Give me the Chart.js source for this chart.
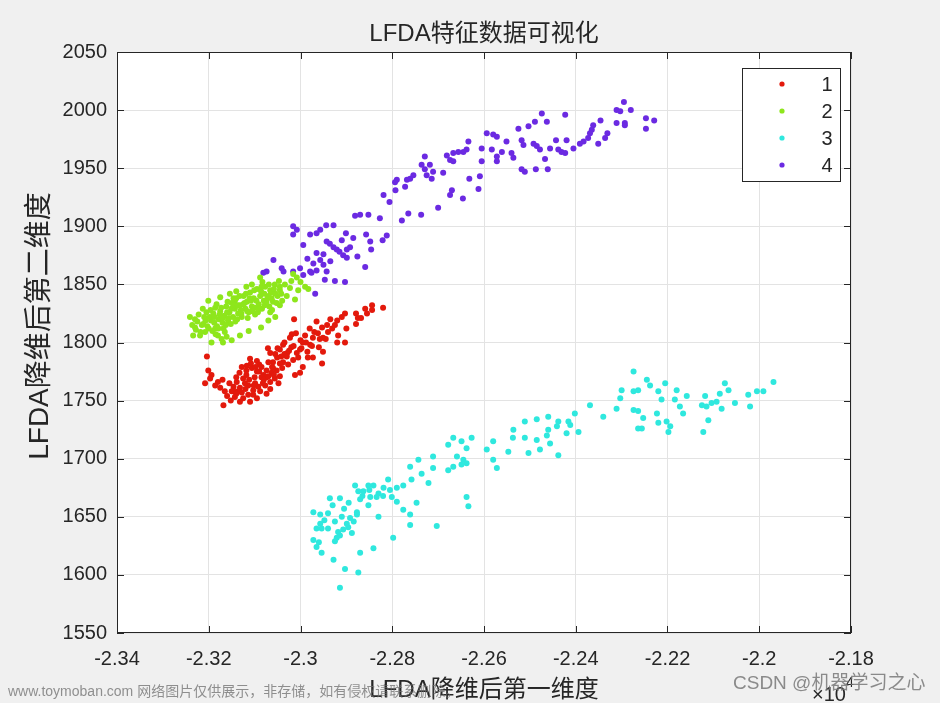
<!DOCTYPE html>
<html><head><meta charset="utf-8">
<script src="https://cdn.jsdelivr.net/npm/chart.js@4.4.1/dist/chart.umd.min.js"></script>
<style>html,body{margin:0;padding:0;background:#f0f0f0;}canvas{display:block;}</style>
</head><body>
<canvas id="c" width="940" height="703"></canvas>
<script>
// ---- data (x in units of 1e4) ----
const class1 = [[-2.2820,1830],[-2.2844,1832],[-2.2859,1829],[-2.2844,1828],[-2.2879,1825],[-2.2875,1821],[-2.2879,1816],[-2.2868,1821],[-2.2903,1825],[-2.2920,1819],[-2.2925,1815],[-2.2931,1812],[-2.3014,1820],[-2.3019,1807],[-2.2903,1800],[-2.2920,1800],[-2.2918,1806],[-2.2953,1813],[-2.2962,1808],[-2.2951,1804],[-2.2973,1804],[-2.2979,1798],[-2.2995,1800],[-2.2951,1792],[-2.2953,1782],[-2.2973,1787],[-2.2984,1787],[-2.2995,1779],[-2.3012,1772],[-2.3023,1804],[-2.3038,1798],[-2.3029,1791],[-2.3045,1794],[-2.3051,1787],[-2.3060,1783],[-2.3066,1791],[-2.3071,1795],[-2.3038,1783],[-2.3027,1781],[-2.3016,1785],[-2.3008,1791],[-2.3001,1794],[-2.3110,1786],[-2.3095,1784],[-2.3085,1779],[-2.3074,1776],[-2.3063,1774],[-2.3056,1769],[-2.3066,1766],[-2.3081,1772],[-2.3095,1775],[-2.3106,1778],[-2.3117,1780],[-2.3128,1779],[-2.3125,1769],[-2.3114,1763],[-2.3103,1759],[-2.3092,1762],[-2.3077,1763],[-2.3132,1761],[-2.3139,1766],[-2.3146,1762],[-2.3150,1758],[-2.3143,1753],[-2.3125,1752],[-2.3114,1755],[-2.3103,1755],[-2.3088,1758],[-2.3052,1776],[-2.3048,1765],[-2.3066,1760],[-2.3074,1770],[-2.3099,1765],[-2.3121,1765],[-2.3133,1774],[-2.3204,1788],[-2.3201,1776],[-2.3194,1772],[-2.3208,1765],[-2.3197,1769],[-2.3186,1763],[-2.3175,1761],[-2.3168,1746],[-2.3165,1758],[-2.3146,1758],[-2.3132,1749],[-2.3110,1749],[-2.3095,1752],[-2.3074,1756],[-2.3001,1774],[-2.3040,1778],[-2.3030,1788],[-2.3020,1796],[-2.3000,1802],[-2.2990,1806],[-2.2980,1812],[-2.2965,1818],[-2.2940,1809],[-2.2960,1796],[-2.2985,1792],[-2.3050,1795],[-2.3060,1778],[-2.3085,1770],[-2.3100,1770],[-2.3118,1772],[-2.3140,1770],[-2.3155,1765],[-2.3160,1754],[-2.3090,1781],[-2.3070,1783],[-2.3045,1771],[-2.3035,1800],[-2.3010,1808],[-2.2935,1820],[-2.2945,1803],[-2.2970,1809],[-2.2900,1812],[-2.2910,1822],[-2.2855,1825],[-2.3108,1782],[-2.3098,1779],[-2.3090,1775],[-2.3080,1768],[-2.3070,1771],[-2.3058,1772],[-2.3045,1782],[-2.3035,1790],[-2.3025,1793],[-2.3015,1797],[-2.3005,1787],[-2.2998,1795],[-2.3120,1760],[-2.3128,1757],[-2.3136,1758],[-2.3112,1768],[-2.3102,1763],[-2.3082,1765],[-2.3062,1779],[-2.3055,1790],[-2.3042,1788],[-2.3118,1776],[-2.3140,1756],[-2.3152,1750],[-2.3180,1766],[-2.3170,1768],[-2.2988,1800],[-2.2975,1797],[-2.2958,1803],[-2.2942,1815]];

const class2 = [[-2.3241,1822],[-2.3230,1813],[-2.3234,1806],[-2.3219,1806],[-2.3208,1809],[-2.3201,1836],[-2.3194,1800],[-2.3180,1806],[-2.3172,1803],[-2.3165,1809],[-2.3175,1839],[-2.3154,1842],[-2.3143,1836],[-2.3225,1818],[-2.3215,1815],[-2.3210,1822],[-2.3205,1826],[-2.3200,1812],[-2.3195,1819],[-2.3190,1825],[-2.3186,1830],[-2.3182,1814],[-2.3178,1820],[-2.3175,1827],[-2.3170,1817],[-2.3166,1823],[-2.3162,1831],[-2.3158,1819],[-2.3155,1826],[-2.3150,1834],[-2.3147,1822],[-2.3143,1829],[-2.3140,1838],[-2.3136,1825],[-2.3132,1832],[-2.3128,1822],[-2.3124,1840],[-2.3120,1829],[-2.3117,1835],[-2.3113,1826],[-2.3110,1843],[-2.3106,1831],[-2.3102,1838],[-2.3099,1824],[-2.3095,1846],[-2.3091,1833],[-2.3088,1840],[-2.3084,1829],[-2.3080,1836],[-2.3077,1848],[-2.3072,1838],[-2.3068,1831],[-2.3064,1843],[-2.3060,1835],[-2.3056,1850],[-2.3050,1840],[-2.3045,1845],[-2.3040,1836],[-2.3212,1816],[-2.3198,1822],[-2.3188,1817],[-2.3176,1824],[-2.3168,1812],[-2.3160,1826],[-2.3152,1816],[-2.3145,1832],[-2.3138,1820],[-2.3130,1828],[-2.3122,1834],[-2.3115,1821],[-2.3108,1836],[-2.3100,1830],[-2.3093,1826],[-2.3086,1844],[-2.3078,1832],[-2.3070,1840],[-2.3062,1828],[-2.3055,1842],[-2.3088,1856],[-2.3106,1850],[-2.3083,1852],[-2.3066,1845],[-2.3045,1848],[-2.3034,1850],[-2.3023,1847],[-2.3016,1859],[-2.3008,1856],[-2.2990,1848],[-2.2983,1846],[-2.3012,1837],[-2.3045,1832],[-2.3066,1826],[-2.3086,1813],[-2.3113,1810],[-2.3132,1806],[-2.3150,1802],[-2.3169,1800],[-2.3186,1812],[-2.3140,1844],[-2.3118,1848],[-2.3055,1822],[-2.3030,1840],[-2.3000,1852],[-2.3070,1819],[-2.3228,1811],[-2.3222,1824],[-2.3218,1809],[-2.3213,1829],[-2.3207,1819],[-2.3203,1814],[-2.3196,1828],[-2.3192,1810],[-2.3187,1822],[-2.3183,1833],[-2.3179,1812],[-2.3173,1830],[-2.3169,1821],[-2.3163,1815],[-2.3159,1835],[-2.3156,1821],[-2.3151,1829],[-2.3146,1838],[-2.3142,1818],[-2.3137,1832],[-2.3133,1840],[-2.3129,1825],[-2.3125,1833],[-2.3119,1842],[-2.3116,1827],[-2.3111,1838],[-2.3105,1827],[-2.3101,1845],[-2.3096,1836],[-2.3090,1829],[-2.3085,1848],[-2.3079,1842],[-2.3074,1835],[-2.3069,1850],[-2.3063,1838],[-2.3058,1846],[-2.3052,1834],[-2.3047,1853],[-2.3042,1842],[-2.3020,1853],[-2.3005,1845],[-2.3230,1820],[-2.3236,1815],[-2.3185,1807],[-2.3161,1805]];

const class3 = [[-2.2274,1775],[-2.2245,1768],[-2.2238,1763],[-2.2205,1765],[-2.2300,1759],[-2.2303,1752],[-2.2274,1758],[-2.2264,1759],[-2.2220,1758],[-2.2213,1751],[-2.2180,1759],[-2.2184,1751],[-2.2158,1754],[-2.2173,1745],[-2.2166,1739],[-2.2118,1754],[-2.2125,1746],[-2.2115,1745],[-2.2104,1748],[-2.2093,1749],[-2.2086,1756],[-2.2075,1765],[-2.2067,1759],[-2.2082,1743],[-2.2053,1748],[-2.2020,1745],[-2.2024,1755],[-2.2005,1758],[-2.1991,1758],[-2.1969,1766],[-2.2111,1733],[-2.2122,1723],[-2.2311,1743],[-2.2340,1736],[-2.2369,1746],[-2.2402,1739],[-2.2274,1742],[-2.2264,1741],[-2.2253,1735],[-2.2264,1726],[-2.2256,1726],[-2.2223,1739],[-2.2220,1731],[-2.2202,1732],[-2.2194,1728],[-2.2198,1723],[-2.2416,1732],[-2.2412,1729],[-2.2420,1722],[-2.2394,1723],[-2.2438,1732],[-2.2441,1728],[-2.2460,1725],[-2.2463,1720],[-2.2456,1713],[-2.2438,1703],[-2.2460,1736],[-2.2485,1734],[-2.2511,1732],[-2.2536,1725],[-2.2537,1718],[-2.2511,1718],[-2.2485,1716],[-2.2478,1708],[-2.2503,1705],[-2.2547,1706],[-2.2580,1715],[-2.2594,1708],[-2.2580,1699],[-2.2572,1692],[-2.2627,1718],[-2.2638,1709],[-2.2649,1715],[-2.2667,1718],[-2.2678,1712],[-2.2659,1702],[-2.2645,1699],[-2.2638,1696],[-2.2649,1695],[-2.2667,1693],[-2.2678,1690],[-2.2638,1667],[-2.2634,1659],[-2.2711,1702],[-2.2711,1692],[-2.2743,1699],[-2.2761,1693],[-2.2736,1687],[-2.2721,1679],[-2.2747,1662],[-2.2703,1642],[-2.2758,1682],[-2.2776,1677],[-2.2790,1675],[-2.2805,1673],[-2.2809,1682],[-2.2801,1667],[-2.2790,1663],[-2.2776,1656],[-2.2761,1652],[-2.2761,1643],[-2.2798,1632],[-2.2819,1675],[-2.2830,1670],[-2.2841,1677],[-2.2852,1677],[-2.2863,1672],[-2.2874,1672],[-2.2881,1677],[-2.2834,1667],[-2.2848,1667],[-2.2870,1665],[-2.2830,1650],[-2.2914,1666],[-2.2936,1666],[-2.2877,1654],[-2.2892,1649],[-2.2899,1644],[-2.2907,1639],[-2.2914,1634],[-2.2921,1632],[-2.2925,1629],[-2.2888,1636],[-2.2877,1652],[-2.2910,1650],[-2.2972,1654],[-2.2957,1652],[-2.2957,1644],[-2.2954,1640],[-2.2972,1630],[-2.2965,1624],[-2.2954,1619],[-2.2928,1613],[-2.2903,1605],[-2.2874,1602],[-2.2870,1619],[-2.2841,1623],[-2.2914,1589],[-2.2896,1641],[-2.2884,1646],[-2.2918,1637],[-2.2852,1660],[-2.2820,1668],[-2.2965,1640],[-2.2948,1647],[-2.2940,1653],[-2.2930,1660],[-2.2925,1646],[-2.2905,1657],[-2.2895,1662],[-2.2865,1668],[-2.2850,1673],[-2.2960,1628],[-2.2940,1640]];

const class4 = [[-2.2295,2007],[-2.2280,2000],[-2.2311,2000],[-2.2303,1999],[-2.2311,1989],[-2.2293,1989],[-2.2293,1987],[-2.2247,1993],[-2.2229,1991],[-2.2247,1984],[-2.2346,1991],[-2.2362,1987],[-2.2365,1983],[-2.2369,1980],[-2.2373,1976],[-2.2383,1973],[-2.2391,1971],[-2.2351,1971],[-2.2331,1980],[-2.2336,1976],[-2.2405,1967],[-2.2420,1974],[-2.2443,1974],[-2.2423,1996],[-2.2431,1964],[-2.2423,1963],[-2.2438,1966],[-2.2456,1967],[-2.2467,1958],[-2.2461,1949],[-2.2487,1949],[-2.2511,1947],[-2.2518,1949],[-2.2474,1997],[-2.2489,1990],[-2.2463,1990],[-2.2503,1986],[-2.2525,1984],[-2.2518,1974],[-2.2514,1970],[-2.2492,1971],[-2.2485,1969],[-2.2478,1966],[-2.2536,1959],[-2.2551,1973],[-2.2561,1964],[-2.2540,1963],[-2.2572,1960],[-2.2572,1956],[-2.2583,1966],[-2.2572,1977],[-2.2580,1979],[-2.2594,1980],[-2.2605,1967],[-2.2605,1956],[-2.2609,1943],[-2.2612,1932],[-2.2634,1973],[-2.2638,1966],[-2.2645,1964],[-2.2656,1964],[-2.2667,1963],[-2.2681,1961],[-2.2674,1957],[-2.2667,1956],[-2.2632,1941],[-2.2646,1924],[-2.2670,1931],[-2.2674,1927],[-2.2689,1946],[-2.2711,1947],[-2.2714,1941],[-2.2725,1944],[-2.2729,1949],[-2.2736,1953],[-2.2729,1960],[-2.2718,1953],[-2.2754,1944],[-2.2761,1941],[-2.2768,1940],[-2.2790,1940],[-2.2794,1938],[-2.2700,1916],[-2.2737,1910],[-2.2765,1911],[-2.2779,1905],[-2.2772,1934],[-2.2793,1931],[-2.2819,1927],[-2.2806,1921],[-2.2827,1907],[-2.2852,1910],[-2.2870,1910],[-2.2881,1909],[-2.2812,1892],[-2.2821,1888],[-2.2846,1880],[-2.2848,1887],[-2.2857,1893],[-2.2876,1874],[-2.2859,1865],[-2.2885,1890],[-2.2901,1894],[-2.2892,1882],[-2.2899,1880],[-2.2907,1875],[-2.2899,1873],[-2.2921,1880],[-2.2928,1882],[-2.2936,1885],[-2.2943,1887],[-2.2928,1901],[-2.2944,1901],[-2.2957,1897],[-2.2965,1894],[-2.2979,1893],[-2.2994,1884],[-2.3008,1897],[-2.3016,1900],[-2.3016,1893],[-2.2965,1877],[-2.2957,1871],[-2.2950,1867],[-2.2943,1861],[-2.2972,1868],[-2.2965,1862],[-2.2979,1861],[-2.3001,1864],[-2.3016,1861],[-2.3037,1861],[-2.3041,1864],[-2.3059,1871],[-2.3074,1861],[-2.3081,1860],[-2.2925,1853],[-2.2903,1852],[-2.2947,1854],[-2.2976,1860],[-2.2994,1858],[-2.2968,1842],[-2.2935,1870],[-2.2915,1878],[-2.2950,1876],[-2.2985,1872],[-2.2910,1888]];

const seriesNames = ['1','2','3','4'];
const seriesColors = ['#e3190c','#8ee61c','#2fe8de','#6b2ae2'];
const xTicks = [-2.34,-2.32,-2.30,-2.28,-2.26,-2.24,-2.22,-2.20,-2.18];
const yTicks = [1550,1600,1650,1700,1750,1800,1850,1900,1950,2000,2050];
const titleText = 'LFDA特征数据可视化';
const xLabel = 'LFDA降维后第一维度';
const yLabel = 'LFDA降维后第二维度';

const FONT = '"Liberation Sans","Noto Sans CJK SC",Arial,sans-serif';
const fmt = v => String(parseFloat(Number(v).toFixed(2)));

const datasets = [class1, class2, class3, class4].map((arr, i) => ({
  label: seriesNames[i],
  data: arr.map(p => ({x: p[0], y: p[1]})),
  backgroundColor: seriesColors[i],
  borderColor: seriesColors[i],
  borderWidth: 0,
  pointRadius: 3,
  pointHoverRadius: 3
}));

const decor = {
  id: 'decor',
  beforeDraw(chart) {
    const {ctx, chartArea: a} = chart;
    ctx.save();
    ctx.fillStyle = '#f0f0f0';
    ctx.fillRect(0, 0, chart.width, chart.height);
    ctx.fillStyle = '#ffffff';
    ctx.fillRect(a.left, a.top, a.right - a.left, a.bottom - a.top);
    ctx.restore();
  },
  afterDraw(chart) {
    const {ctx, chartArea: a, scales} = chart;
    ctx.save();
    ctx.strokeStyle = '#262626';
    ctx.lineWidth = 1;
    ctx.strokeRect(a.left + 0.5, a.top + 0.5, a.right - a.left - 1, a.bottom - a.top - 1);
    ctx.beginPath();
    const tl = 7;
    xTicks.forEach(v => {
      const px = Math.round(scales.x.getPixelForValue(v)) + 0.5;
      ctx.moveTo(px, a.bottom); ctx.lineTo(px, a.bottom - tl);
      ctx.moveTo(px, a.top); ctx.lineTo(px, a.top + tl);
    });
    yTicks.forEach(v => {
      const py = Math.round(scales.y.getPixelForValue(v)) + 0.5;
      ctx.moveTo(a.left, py); ctx.lineTo(a.left + tl, py);
      ctx.moveTo(a.right, py); ctx.lineTo(a.right - tl, py);
    });
    ctx.stroke();

    // legend
    const lx = 742, ly = 68, lw = 98, lh = 113;
    ctx.fillStyle = '#ffffff';
    ctx.fillRect(lx, ly, lw, lh);
    ctx.strokeStyle = '#262626';
    ctx.strokeRect(lx + 0.5, ly + 0.5, lw, lh);
    const rows = [84, 111, 138, 165];
    seriesNames.forEach((n, i) => {
      ctx.fillStyle = seriesColors[i];
      ctx.beginPath();
      ctx.arc(782, rows[i], 2.6, 0, Math.PI * 2);
      ctx.fill();
      ctx.fillStyle = '#262626';
      ctx.font = '20px ' + FONT;
      ctx.textAlign = 'center';
      ctx.textBaseline = 'middle';
      ctx.fillText(n, 827, rows[i] + 1);
    });

    ctx.fillStyle = '#262626';
    ctx.font = '24px ' + FONT;
    ctx.textAlign = 'center';
    ctx.textBaseline = 'middle';
    ctx.fillText(titleText, (a.left + a.right) / 2, 34);

    ctx.font = '24px ' + FONT;
    ctx.fillText(xLabel, (a.left + a.right) / 2, 690);

    ctx.save();
    ctx.translate(40, 326);
    ctx.rotate(-Math.PI / 2);
    ctx.font = '28px ' + FONT;
    ctx.fillText(yLabel, 0, 0);
    ctx.restore();

    ctx.font = '20px ' + FONT;
    ctx.textAlign = 'left';
    ctx.fillText('×10', 812, 695);
    ctx.font = '14px ' + FONT;
    ctx.fillText('4', 846, 683);

    ctx.font = '14px ' + FONT;
    ctx.fillStyle = 'rgba(110,110,110,0.75)';
    ctx.textAlign = 'left';
    ctx.fillText('www.toymoban.com 网络图片仅供展示，非存储，如有侵权请联系删除。', 8, 692);
    ctx.font = '19px ' + FONT;
    ctx.fillStyle = 'rgba(120,120,120,0.85)';
    ctx.fillText('CSDN @机器学习之心', 733, 684);
    ctx.restore();
  }
};

new Chart(document.getElementById('c'), {
  type: 'scatter',
  data: { datasets },
  options: {
    responsive: false,
    animation: false,
    events: [],
    layout: { padding: { top: 52, right: 89, left: 0, bottom: 0 } },
    plugins: { legend: { display: false }, tooltip: { enabled: false }, title: { display: false } },
    scales: {
      x: {
        type: 'linear',
        min: -2.34, max: -2.18,
        afterBuildTicks: s => { s.ticks = xTicks.map(v => ({value: v})); },
        afterFit: s => { s.height = 70; },
        grid: { color: '#e3e3e3', lineWidth: 1, drawTicks: false },
        border: { display: false },
        ticks: { callback: v => fmt(v), font: { family: FONT, size: 20 }, color: '#262626', padding: 14, maxRotation: 0, autoSkip: false }
      },
      y: {
        type: 'linear',
        min: 1550, max: 2050,
        afterBuildTicks: s => { s.ticks = yTicks.map(v => ({value: v})); },
        afterFit: s => { s.width = 117; },
        grid: { color: '#e3e3e3', lineWidth: 1, drawTicks: false },
        border: { display: false },
        ticks: { callback: v => fmt(v), font: { family: FONT, size: 20 }, color: '#262626', padding: 10, autoSkip: false }
      }
    }
  },
  plugins: [decor]
});
</script>
</body></html>
